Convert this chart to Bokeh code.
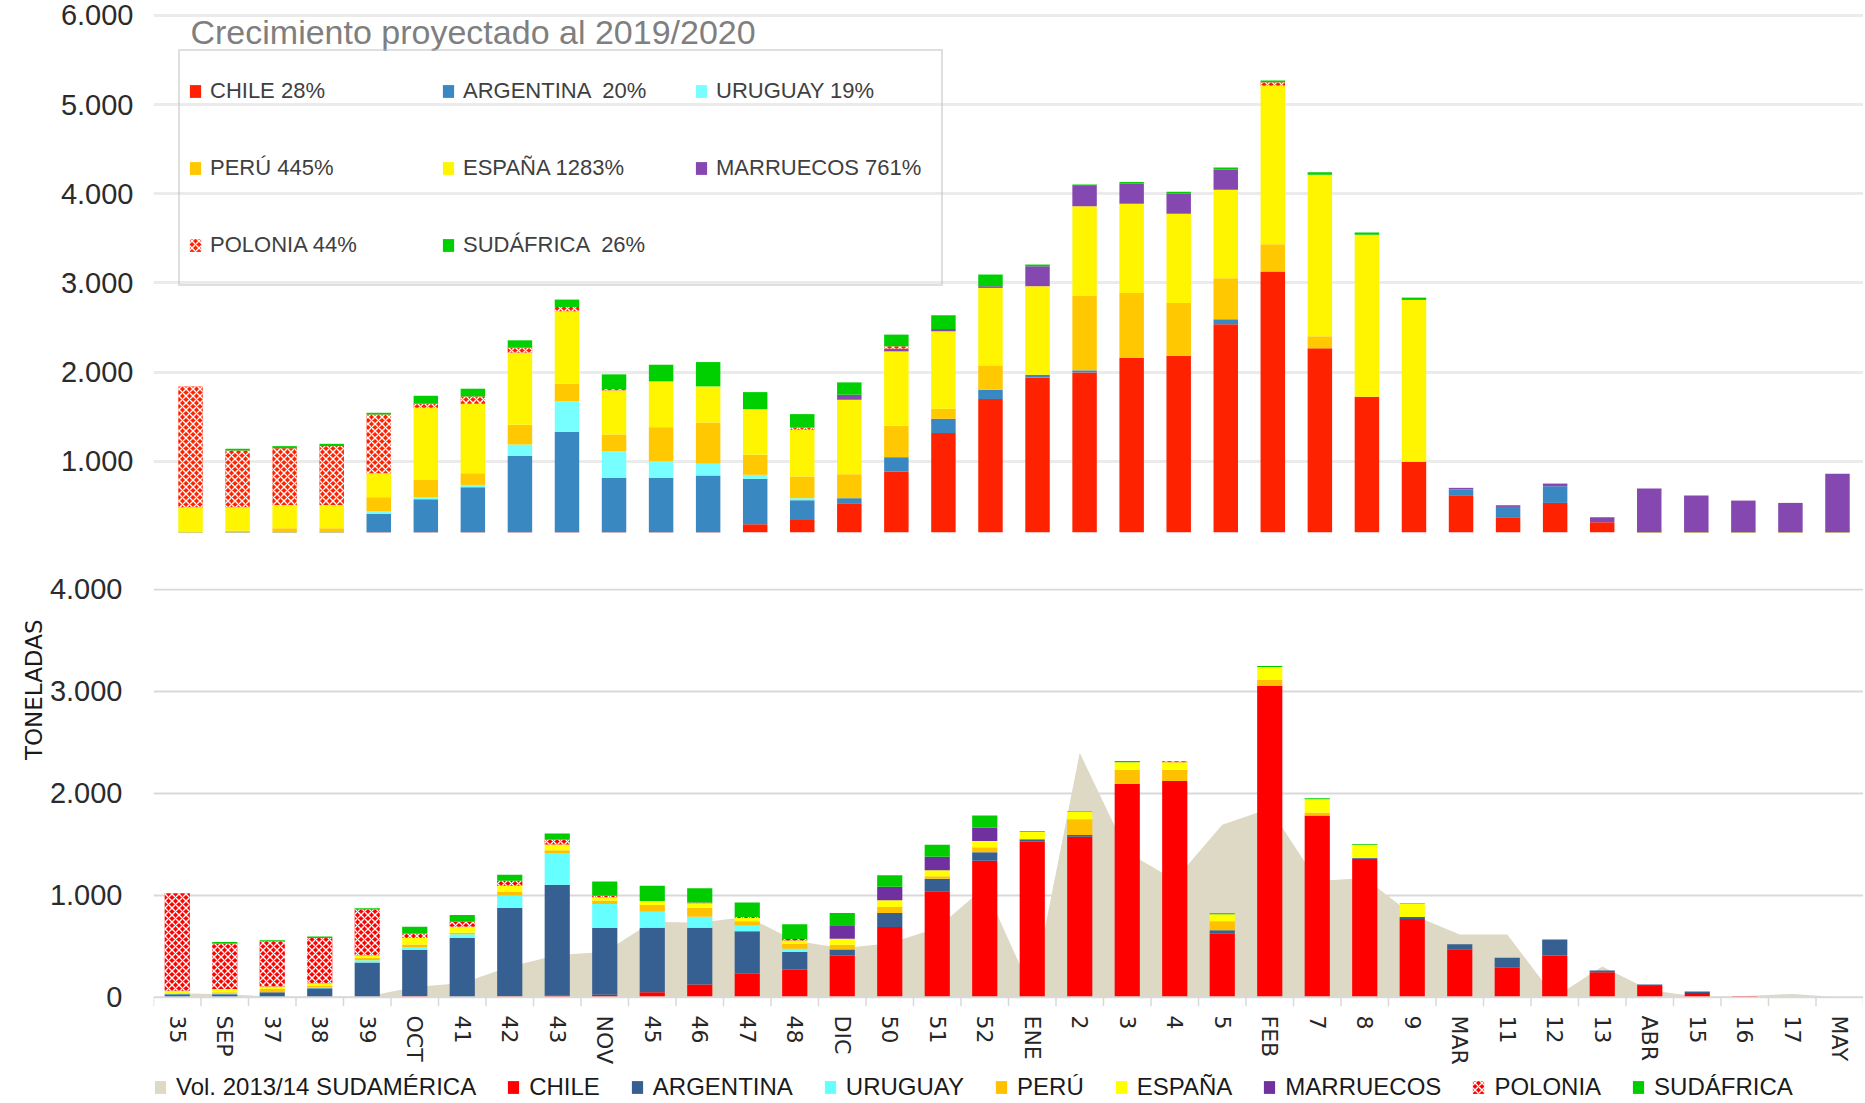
from bokeh.plotting import figure
from bokeh.layouts import column
from bokeh.models import (ColumnDataSource, FactorRange, Range1d, FixedTicker, Legend,
                          LegendItem, Label, Span, Title)
from bokeh.transform import dodge
from bokeh.embed import file_html
from bokeh.resources import INLINE

weeks = ["35", "SEP", "37", "38", "39", "OCT", "41", "42", "43", "NOV", "45", "46", "47", "48",
         "DIC", "50", "51", "52", "ENE", "2", "3", "4", "5", "FEB", "7", "8", "9", "MAR", "11",
         "12", "13", "ABR", "15", "16", "17", "MAY"]

series_names = ["CHILE", "ARGENTINA", "URUGUAY", "PERÚ", "ESPAÑA", "MARRUECOS", "POLONIA", "SUDÁFRICA"]
top_labels = ["CHILE 28%", "ARGENTINA  20%", "URUGUAY 19%", "PERÚ 445%", "ESPAÑA 1283%",
              "MARRUECOS 761%", "POLONIA 44%", "SUDÁFRICA  26%"]
top_title = "Crecimiento proyectado al 2019/2020"
vol_label = "Vol. 2013/14 SUDAMÉRICA"
y_title = "TONELADAS"

# ---- projected 2019/2020 (tonnes per week) ----
top_chile = [0, 0, 0, 0, 0, 0, 0, 0, 0, 0, 0, 0, 292, 341, 528, 884, 1315, 1697, 1940, 1996, 2157,
             2184, 2536, 3128, 2266, 1723, 993, 618, 371, 532, 315, 0, 0, 0, 0, 0]
top_argentina = [0, 0, 0, 0, 408, 573, 708, 1060, 1330, 813, 813, 839, 510, 221, 57, 161, 161, 105,
                 30, 23, 0, 0, 56, 0, 0, 0, 0, 64, 116, 187, 0, 0, 0, 0, 0, 0]
top_uruguay = [0, 0, 0, 0, 27, 23, 26, 127, 344, 296, 187, 131, 45, 23, 0, 0, 0, 0, 0, 0, 0, 0, 0,
               0, 0, 0, 0, 0, 0, 0, 0, 0, 0, 0, 0, 0]
top_peru = [0, 221, 247, 247, 161, 194, 131, 221, 195, 191, 382, 464, 224, 243, 269, 352, 112, 273,
            0, 839, 731, 591, 461, 307, 135, 0, 0, 0, 0, 0, 0, 0, 0, 0, 0, 0]
top_espana = [483, 262, 262, 262, 269, 809, 779, 809, 813, 494, 513, 405, 513, 524, 835, 835, 869,
              869, 993, 1003, 1000, 1000, 992, 1778, 1813, 1816, 1816, 0, 0, 0, 0, 0, 0, 0, 0, 0]
top_marruecos = [0, 0, 0, 0, 0, 0, 0, 0, 0, 0, 0, 0, 0, 0, 57, 30, 26, 19, 224, 225, 224, 225, 225,
                 0, 0, 0, 0, 19, 19, 30, 56, 693, 615, 558, 532, 858]
top_polonia = [1356, 637, 637, 660, 659, 45, 83, 56, 48, 15, 0, 0, 0, 26, 0, 27, 0, 0, 0, 0, 0, 0,
               0, 38, 0, 0, 0, 0, 0, 0, 0, 0, 0, 0, 0, 0]
top_sudafrica = [0, 19, 23, 26, 19, 90, 86, 83, 83, 165, 187, 273, 191, 150, 138, 131, 154, 131, 19,
                 19, 19, 22, 26, 19, 26, 27, 26, 0, 0, 0, 0, 0, 0, 0, 0, 0]

# ---- season 2013/14 (tonnes per week) ----
bot_chile = [0, 0, 0, 0, 0, 10, 0, 10, 16, 26, 49, 125, 230, 272, 410, 689, 1039, 1338, 1525, 1574,
             2092, 2118, 623, 3049, 1780, 1357, 767, 472, 289, 407, 246, 111, 43, 13, 0, 0]
bot_argentina = [30, 30, 49, 89, 342, 457, 582, 868, 1086, 655, 632, 556, 416, 171, 59, 137, 122,
                 82, 23, 16, 0, 0, 33, 0, 0, 7, 20, 49, 98, 160, 16, 14, 13, 0, 0, 0]
bot_uruguay = [5, 5, 0, 6, 20, 20, 37, 119, 306, 234, 158, 109, 59, 32, 0, 0, 0, 0, 0, 0, 0, 0, 0,
               0, 0, 0, 0, 0, 0, 0, 0, 0, 0, 0, 0, 0]
bot_peru = [5, 14, 33, 20, 26, 30, 13, 39, 33, 33, 66, 88, 39, 50, 46, 59, 26, 49, 0, 154, 138, 112,
            88, 59, 30, 0, 0, 0, 0, 0, 0, 0, 0, 0, 0, 0]
bot_espana = [25, 33, 23, 23, 23, 65, 59, 56, 56, 32, 39, 43, 33, 32, 59, 66, 59, 62, 72, 73, 72, 72,
              69, 128, 131, 131, 131, 0, 0, 0, 0, 0, 0, 0, 0, 0]
bot_marruecos = [0, 0, 0, 0, 0, 0, 0, 0, 0, 0, 0, 0, 0, 0, 131, 131, 131, 131, 0, 0, 0, 0, 0, 0, 0,
                 0, 0, 0, 0, 0, 0, 0, 0, 0, 0, 0]
bot_polonia = [955, 444, 444, 444, 451, 43, 49, 50, 49, 14, 0, 7, 10, 14, 0, 0, 0, 0, 0, 0, 0, 10, 0,
               0, 0, 0, 0, 0, 0, 0, 0, 0, 0, 0, 0, 0]
bot_sudafrica = [0, 17, 10, 13, 10, 66, 66, 59, 60, 141, 148, 141, 141, 144, 121, 115, 118, 119, 6, 6,
                 13, 0, 10, 10, 10, 7, 7, 0, 0, 0, 0, 0, 0, 0, 0, 0]
vol_sudamerica_1314 = [40, 30, 8, 8, 8, 100, 140, 300, 415, 445, 740, 730, 790, 555, 480, 530, 678,
                       1080, 50, 2395, 1420, 1150, 1690, 1850, 1140, 1170, 810, 616, 616, 0, 302, 72,
                       5, 13, 33, 0]

top_ticks = [1000, 2000, 3000, 4000, 5000, 6000]
top_tick_labels = ["1.000", "2.000", "3.000", "4.000", "5.000", "6.000"]
bot_ticks = [0, 1000, 2000, 3000, 4000]
bot_tick_labels = ["0", "1.000", "2.000", "3.000", "4.000"]

top_colors = ["#FF2200", "#3A88C2", "#77FFFF", "#FFC800", "#FFF500", "#8548B0", "#FF2200", "#00D000"]
bot_colors = ["#FF0000", "#366092", "#66FFFF", "#FFC000", "#FFFF00", "#7030A0", "#FF0000", "#00CC00"]
vol_color = "#DDD9C4"

LAB_FONT = "Liberation Sans"
HATCH = dict(hatch_pattern="diagonal_cross", hatch_color="white", hatch_scale=7, hatch_weight=1.3)


def draw_stack(p, xs, series, colors, width):
    data = {"x": xs}
    cum = [0] * len(xs)
    for i, vals in enumerate(series):
        top = [c + v for c, v in zip(cum, vals)]
        data["b%d" % i] = cum
        data["t%d" % i] = top
        cum = top
    src = ColumnDataSource(data)
    rends = []
    for i, col in enumerate(colors):
        kw = HATCH if series_names[i] == "POLONIA" else {}
        r = p.vbar(x="x", bottom="b%d" % i, top="t%d" % i, width=width, fill_color=col,
                   line_color=None, source=src, **kw)
        rends.append(r)
    return rends


def style_yaxis(ax, ticks, labels, standoff):
    ax.ticker = FixedTicker(ticks=ticks)
    ax.major_label_overrides = {t: s for t, s in zip(ticks, labels)}
    ax.axis_line_color = None
    ax.major_tick_line_color = None
    ax.minor_tick_line_color = None
    ax.major_tick_out = 0
    ax.major_tick_in = 0
    ax.major_label_standoff = standoff
    ax.major_label_text_font = LAB_FONT
    ax.major_label_text_font_size = "29px"
    ax.major_label_text_color = "#2B2B2B"


# ================= TOP CHART (projection) =================
# numeric week slots (one per week, centred on i + 0.5)
top_x = [i + 0.5 for i in range(len(weeks))]
p1 = figure(x_range=Range1d(-0.287, len(weeks) + 0.053), y_range=Range1d(200, 6112),
            frame_width=1710, frame_height=527, min_border_left=153, min_border_right=0,
            min_border_top=5, min_border_bottom=8, output_backend="svg", toolbar_location=None)
p1.outline_line_color = None
p1.xaxis.visible = False
p1.xgrid.visible = False
p1.ygrid.ticker = FixedTicker(ticks=top_ticks)
p1.ygrid.grid_line_color = "#EBEBEB"
p1.ygrid.grid_line_width = 3
style_yaxis(p1.yaxis, top_ticks, top_tick_labels, 20)

top_series = [top_chile, top_argentina, top_uruguay, top_peru, top_espana, top_marruecos,
              top_polonia, top_sudafrica]
r1 = draw_stack(p1, top_x, top_series, top_colors, 0.52)

p1.add_layout(Label(x=0.499, y=5820, text=top_title, text_font=LAB_FONT, text_font_size="34px",
                    text_color="#7F7F7F", text_baseline="alphabetic", text_align="left"))

leg1 = Legend(items=[LegendItem(label=lab, renderers=[r]) for lab, r in zip(top_labels, r1)],
              location=(25, 246), orientation="horizontal", ncols=3, glyph_width=14,
              glyph_height=16, label_standoff=8, label_width=217, label_height=63, spacing=14,
              padding=8, margin=0, border_line_color="#BFBFBF", border_line_width=2,
              background_fill_alpha=0, label_text_font=LAB_FONT, label_text_font_size="22px",
              label_text_color="#404040")
p1.add_layout(leg1, "center")

# ================= BOTTOM CHART (season 2013/14) =================
p2 = figure(x_range=FactorRange(factors=weeks, range_padding=0), y_range=Range1d(-90, 4005),
            frame_width=1710, frame_height=418, min_border_left=153, min_border_right=0,
            min_border_top=48, min_border_bottom=62, output_backend="svg", toolbar_location=None)
p2.outline_line_color = None
p2.xgrid.visible = False
p2.ygrid.ticker = FixedTicker(ticks=bot_ticks[1:])
p2.ygrid.grid_line_color = "#D9D9D9"
p2.ygrid.grid_line_width = 2
style_yaxis(p2.yaxis, bot_ticks, bot_tick_labels, 31)

vol_src = ColumnDataSource(dict(x=weeks, vol=vol_sudamerica_1314))
p2.varea(x="x", y1=0, y2="vol", source=vol_src, fill_color=vol_color)

bot_series = [bot_chile, bot_argentina, bot_uruguay, bot_peru, bot_espana, bot_marruecos,
              bot_polonia, bot_sudafrica]
draw_stack(p2, weeks, bot_series, bot_colors, 0.53)

# category axis line at 0 and tick marks between the weeks
p2.add_layout(Span(location=0, dimension="width", line_color="#D9D9D9", line_width=2))
tk_src = ColumnDataSource(dict(x=weeks))
p2.segment(x0=dodge("x", -0.5, range=p2.x_range), y0=0,
           x1=dodge("x", -0.5, range=p2.x_range), y1=-90, source=tk_src,
           line_color="#D9D9D9", line_width=1.5)
last_src = ColumnDataSource(dict(x=weeks[-1:]))
p2.segment(x0=dodge("x", 0.5, range=p2.x_range), y0=0,
           x1=dodge("x", 0.5, range=p2.x_range), y1=-90, source=last_src,
           line_color="#D9D9D9", line_width=1.5)

p2.xaxis.axis_line_color = None
p2.xaxis.major_tick_line_color = None
p2.xaxis.minor_tick_line_color = None
p2.xaxis.major_tick_out = 0
p2.xaxis.major_tick_in = 0
p2.xaxis.major_label_orientation = "vertical"
p2.xaxis.major_label_standoff = 9
p2.xaxis.major_label_text_font = "DejaVu Sans"
p2.xaxis.major_label_text_font_size = "22px"
p2.xaxis.major_label_text_color = "#262626"

p2.add_layout(Title(text=y_title, align="right", offset=31, text_font="DejaVu Sans",
                    text_font_size="23px", text_font_style="normal", text_color="#1A1A1A",
                    standoff=0), "left")

# ================= LEGEND STRIP for the 2013/14 chart =================
# the legend lives in its own thin plot; its key glyphs sit outside the visible range
p3 = figure(x_range=Range1d(0, 1), y_range=Range1d(0, 1), frame_width=1710, frame_height=30,
            min_border_left=153, min_border_right=0, min_border_top=4, min_border_bottom=0,
            output_backend="svg", toolbar_location=None)
p3.outline_line_color = None
p3.axis.visible = False
p3.grid.visible = False
key_area = ColumnDataSource(dict(x=[5, 6], y1=[5, 5], y2=[6, 6]))
lv = p3.varea(x="x", y1="y1", y2="y2", source=key_area, fill_color=vol_color)
items3 = [LegendItem(label=vol_label, renderers=[lv])]
for nm, col in zip(series_names, bot_colors):
    kw = HATCH if nm == "POLONIA" else {}
    key_bar = ColumnDataSource(dict(x=[5], bottom=[5], top=[6]))
    rb = p3.vbar(x="x", bottom="bottom", top="top", width=0.5, source=key_bar, fill_color=col,
                 line_color=None, **kw)
    items3.append(LegendItem(label=nm, renderers=[rb]))
leg3 = Legend(items=items3, location="left", orientation="horizontal", glyph_width=14,
              glyph_height=16, label_standoff=9, spacing=30, padding=0, margin=0,
              label_height=22, border_line_alpha=0, background_fill_alpha=0,
              label_text_font=LAB_FONT, label_text_font_size="24px",
              label_text_color="#1A1A1A")
p3.add_layout(leg3, "center")

layout = column(p1, p2, p3, spacing=0)
open("out.html", "w").write(file_html(layout, INLINE))
